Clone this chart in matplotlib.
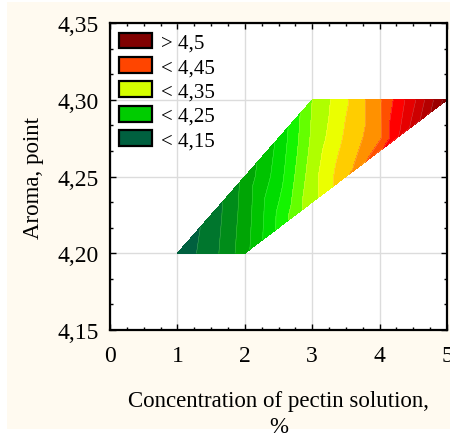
import numpy as np
import matplotlib
matplotlib.use("Agg")
import matplotlib.pyplot as plt
import matplotlib.tri as mtri
from matplotlib.patches import Patch, Rectangle
from matplotlib.ticker import AutoMinorLocator, FuncFormatter

# sample points (x: concentration, y: aroma, z: fitted value)
conc = [1, 1.5, 2,
        1.5, 2, 2.5, 2.75,
        2, 2.5, 3, 3.5,
        2.5, 3, 3.5, 4, 4.25,
        3, 3.5, 4, 4.5, 5]
aroma = [4.2, 4.2, 4.2,
         4.225, 4.225, 4.225, 4.225,
         4.25, 4.25, 4.25, 4.25,
         4.275, 4.275, 4.275, 4.275, 4.275,
         4.3, 4.3, 4.3, 4.3, 4.3]
score = [4.133, 4.163, 4.215,
         4.158, 4.211, 4.28, 4.313,
         4.208, 4.263, 4.34, 4.395,
         4.255, 4.33, 4.38, 4.42, 4.47,
         4.325, 4.371, 4.421, 4.493, 4.588]

band_colors = ["#00603f", "#00762d", "#008c19", "#00a505", "#00c300",
               "#00dc00", "#14f500", "#64ff00", "#afff00", "#ebff00",
               "#ffcd00", "#ff9100", "#ff5000", "#ff0000", "#e60000",
               "#cd0000", "#b40000", "#9b0000", "#820000"]

legend_labels = ["> 4,5", "< 4,45", "< 4,35", "< 4,25", "< 4,15"]
legend_colors = ["#800000", "#ff4500", "#d6ff00", "#00cc00", "#00603f"]

plt.rcParams["font.family"] = ["Liberation Serif", "DejaVu Serif"]

fig = plt.figure(figsize=(4.5, 4.39), dpi=100)
fig.patch.set_facecolor("white")
fig.patches.append(Rectangle((7 / 450, 9 / 439), 1, 427 / 439, transform=fig.transFigure,
                             facecolor="#fffaf0", edgecolor="none", zorder=-10))

ax = fig.add_axes([0.2444, 0.246, 0.749, 0.699])

x = np.array(conc)
y = np.array(aroma)
z = np.array(score)

# triangulate in scaled space so the mesh is not squashed by the tiny y range
ys = (y - 4.2) * 20
tri = mtri.Triangulation(x, y, triangles=mtri.Triangulation(x, ys).triangles)

levels = np.linspace(4.125, 4.6, len(band_colors) + 1)
ax.tricontourf(tri, z, levels=levels, colors=band_colors, zorder=2)
ax.tricontour(tri, z, levels=levels, colors="white", linewidths=0.3, alpha=0.35, zorder=3)

ax.set_xlim(0, 5)
ax.set_ylim(4.15, 4.35)
ax.set_xticks([0, 1, 2, 3, 4, 5])
ax.set_yticks([4.15, 4.20, 4.25, 4.30, 4.35])
ax.xaxis.set_minor_locator(AutoMinorLocator(4))
ax.yaxis.set_minor_locator(AutoMinorLocator(3))
ax.yaxis.set_major_formatter(FuncFormatter(lambda v, p: f"{v:.2f}".replace(".", ",")))
ax.tick_params(which="both", direction="in", top=True, right=True, labelsize=17)
ax.tick_params(which="major", length=4, width=1)
ax.tick_params(axis="x", which="major", pad=11)
ax.tick_params(axis="y", which="major", pad=8)
ax.tick_params(which="minor", length=2.5, width=1)
ax.grid(True, color="#dcdcdc", linewidth=1, zorder=0)
ax.set_axisbelow(True)
for s in ax.spines.values():
    s.set_linewidth(1.6)

ax.set_xlabel("Concentration of pectin solution,\n%", fontsize=16.5, labelpad=17, linespacing=1.3)
ax.set_ylabel("Aroma, point", fontsize=16.5, labelpad=10)

handles = [Patch(facecolor=c, edgecolor="black", linewidth=1.6) for c in legend_colors]
ax.legend(handles, legend_labels, loc="upper left", frameon=False, fontsize=15,
          handlelength=1.55, handleheight=0.8, labelspacing=0.2, handletextpad=0.45,
          borderaxespad=0.15, borderpad=0.3)

fig.savefig("out.png", dpi=100, facecolor=fig.get_facecolor())
